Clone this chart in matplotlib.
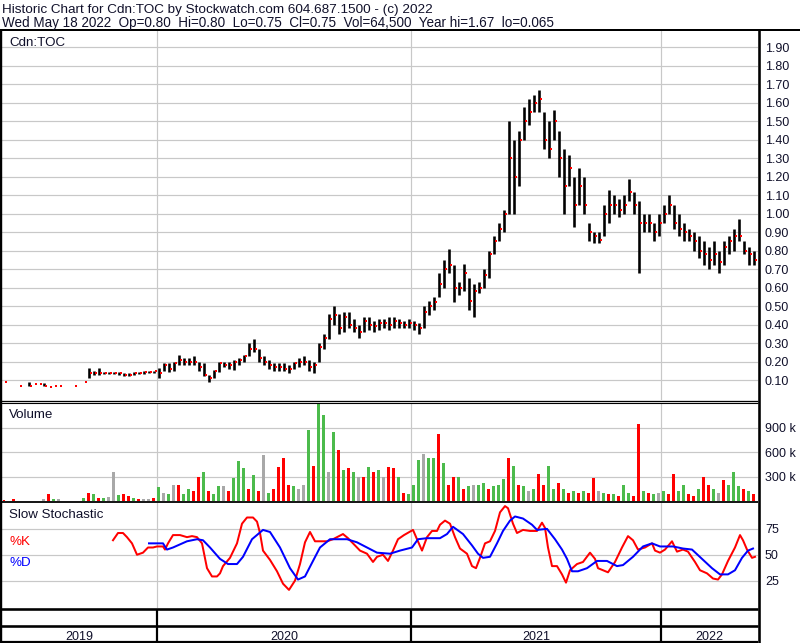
import numpy as np
import matplotlib
matplotlib.use("Agg")
import matplotlib.pyplot as plt
from matplotlib.lines import Line2D

plt.rcParams['font.family'] = ['Liberation Sans', 'DejaVu Sans']

# ---------------- data (weekly samples, session index of each week) ----------------
n_weeks = 151
week_session = 4 + 5 * np.arange(n_weeks)

price_high = [0.09, None, None, 0.07, None, 0.09, 0.08, 0.08, 0.085, 0.06,
              0.07, 0.07, None, None, 0.07, None, 0.09, 0.165, 0.15, 0.165,
              0.145, 0.145, 0.145, 0.145, 0.14, 0.14, 0.145, 0.145, 0.15, 0.15,
              0.15, 0.165, 0.19, 0.19, 0.20, 0.235, 0.22, 0.22, 0.23, 0.20,
              0.19, 0.13, 0.155, 0.20, 0.20, 0.20, 0.21, 0.22, 0.235, 0.30,
              0.32, 0.27, 0.23, 0.21, 0.19, 0.19, 0.19, 0.18, 0.20, 0.22,
              0.23, 0.21, 0.20, 0.30, 0.35, 0.46, 0.50, 0.46, 0.47, 0.47,
              0.43, 0.40, 0.44, 0.44, 0.42, 0.43, 0.43, 0.44, 0.44, 0.43,
              0.42, 0.43, 0.42, 0.41, 0.50, 0.53, 0.55, 0.68, 0.75, 0.81,
              0.72, 0.63, 0.73, 0.65, 0.62, 0.63, 0.70, 0.80, 0.88, 0.95,
              1.02, 1.50, 1.40, 1.45, 1.58, 1.62, 1.64, 1.67, 1.55, 1.50,
              1.56, 1.45, 1.35, 1.32, 1.20, 1.25, 1.20, 0.95, 0.90, 0.90,
              1.05, 1.13, 1.10, 1.08, 1.10, 1.19, 1.12, 1.07, 1.00, 1.00,
              0.95, 1.00, 1.05, 1.10, 1.05, 1.00, 0.95, 0.92, 0.90, 0.88,
              0.85, 0.82, 0.85, 0.80, 0.85, 0.88, 0.92, 0.97, 0.85, 0.82,
              0.80]
price_low = [0.09, None, None, 0.07, None, 0.07, 0.08, 0.08, 0.07, 0.06,
             0.07, 0.07, None, None, 0.07, None, 0.09, 0.11, 0.13, 0.13,
             0.135, 0.135, 0.135, 0.13, 0.12, 0.12, 0.13, 0.135, 0.135, 0.14,
             0.14, 0.11, 0.15, 0.145, 0.15, 0.18, 0.18, 0.18, 0.18, 0.15,
             0.12, 0.09, 0.11, 0.145, 0.17, 0.16, 0.155, 0.18, 0.20, 0.23,
             0.25, 0.20, 0.18, 0.16, 0.15, 0.15, 0.15, 0.14, 0.16, 0.17,
             0.18, 0.15, 0.14, 0.20, 0.27, 0.32, 0.40, 0.35, 0.36, 0.38,
             0.36, 0.33, 0.36, 0.37, 0.36, 0.37, 0.38, 0.37, 0.38, 0.38,
             0.38, 0.38, 0.37, 0.35, 0.38, 0.45, 0.48, 0.55, 0.60, 0.68,
             0.52, 0.56, 0.58, 0.48, 0.44, 0.57, 0.60, 0.65, 0.78, 0.85,
             0.90, 1.00, 1.00, 1.15, 1.40, 1.48, 1.55, 1.55, 1.35, 1.30,
             1.40, 1.20, 1.00, 1.15, 0.93, 1.05, 1.00, 0.85, 0.84, 0.84,
             0.88, 0.95, 1.00, 0.98, 1.00, 1.07, 1.00, 0.68, 0.90, 0.90,
             0.85, 0.88, 0.95, 1.00, 0.92, 0.88, 0.85, 0.85, 0.80, 0.76,
             0.72, 0.70, 0.72, 0.68, 0.72, 0.78, 0.80, 0.85, 0.78, 0.72,
             0.72]
price_close = [0.09, None, None, 0.07, None, 0.07, 0.08, 0.08, 0.07, 0.06,
               0.07, 0.07, None, None, 0.07, None, 0.09, 0.14, 0.14, 0.14,
               0.14, 0.14, 0.14, 0.14, 0.13, 0.13, 0.14, 0.14, 0.145, 0.145,
               0.15, 0.14, 0.18, 0.16, 0.19, 0.21, 0.20, 0.20, 0.20, 0.17,
               0.13, 0.11, 0.15, 0.19, 0.18, 0.18, 0.20, 0.21, 0.23, 0.27,
               0.27, 0.22, 0.20, 0.18, 0.17, 0.17, 0.16, 0.16, 0.19, 0.20,
               0.20, 0.17, 0.18, 0.28, 0.33, 0.43, 0.45, 0.38, 0.44, 0.40,
               0.38, 0.36, 0.42, 0.40, 0.39, 0.41, 0.41, 0.40, 0.42, 0.41,
               0.40, 0.41, 0.40, 0.38, 0.47, 0.50, 0.52, 0.62, 0.70, 0.72,
               0.60, 0.60, 0.68, 0.53, 0.58, 0.60, 0.67, 0.78, 0.85, 0.92,
               1.00, 1.30, 1.20, 1.40, 1.50, 1.55, 1.60, 1.62, 1.40, 1.35,
               1.50, 1.30, 1.15, 1.25, 1.05, 1.15, 1.05, 0.90, 0.88, 0.86,
               1.00, 1.05, 1.05, 1.02, 1.05, 1.12, 1.05, 0.95, 0.95, 0.95,
               0.90, 0.95, 1.00, 1.05, 0.95, 0.92, 0.90, 0.88, 0.85, 0.80,
               0.78, 0.75, 0.78, 0.74, 0.82, 0.85, 0.88, 0.88, 0.80, 0.78,
               0.75]

volume_k = [10, 0, 25, 0, 0, 0, 0, 0, 30, 80,
            30, 20, 0, 0, 0, 0, 40, 100, 80, 40,
            40, 50, 360, 70, 80, 60, 40, 30, 30, 20,
            40, 170, 100, 80, 200, 200, 80, 150, 120, 300,
            360, 120, 80, 180, 180, 120, 280, 490, 400, 150,
            320, 120, 560, 100, 150, 420, 530, 200, 180, 150,
            200, 870, 430, 1190, 1050, 360, 840, 620, 380, 400,
            350, 300, 300, 420, 350, 380, 300, 420, 400, 300,
            100, 80, 200, 500, 570, 530, 530, 820, 470, 200,
            300, 300, 150, 180, 200, 200, 220, 150, 180, 200,
            270, 530, 430, 200, 180, 120, 150, 330, 200, 430,
            150, 220, 150, 100, 120, 100, 120, 100, 280, 120,
            100, 80, 90, 60, 200, 100, 60, 940, 120, 100,
            80, 100, 120, 80, 330, 120, 200, 80, 60, 150,
            290, 200, 150, 100, 260, 200, 360, 180, 150, 120,
            80]
# u = up day (green), d = down day (red), n = unchanged (grey)
volume_dir = ("d d d d d d d d n d "
              "u n d d d d u d u d "
              "u n n u d d u d n n "
              "d u n u n d u u d d "
              "u d u u n d u u u d "
              "u d n u d d d d u n "
              "n u d u u n u d u d "
              "u n d u d u n d d u "
              "d u u u n u u d u d "
              "d u d u n u u d u u "
              "u d u d u n u d d u "
              "u d u d u d u d d n "
              "u d u d u u d d u d "
              "u n u d d u u d d u "
              "d d u n d u u u d u "
              "d").split()

stoch_k_session = [113, 118, 123, 127, 132, 137, 143, 148, 153, 157,
                   163, 165, 168, 173, 180, 187, 192, 197, 202, 207,
                   212, 217, 220, 223, 230, 237, 242, 247, 253, 257,
                   260, 263, 270, 277, 283, 289, 295, 300, 305, 310,
                   315, 320, 327, 333, 343, 348, 353, 360, 367, 373,
                   377, 383, 388, 393, 398, 404, 413, 417, 422, 427,
                   432, 437, 440, 445, 450, 455, 460, 467, 472, 476,
                   480, 485, 490, 495, 500, 505, 508, 513, 517, 523,
                   530, 537, 542, 545, 548, 552, 557, 562, 566, 570,
                   577, 583, 590, 595, 598, 608, 615, 622, 628, 633,
                   638, 645, 652, 655, 660, 665, 672, 677, 683, 688,
                   695, 700, 707, 713, 718, 722, 728, 735, 740, 743,
                   747, 752, 755]
stoch_k = [64, 71, 71, 67, 61, 50, 52, 57, 57, 58,
           58, 55, 61, 69, 69, 67, 68, 67, 61, 37,
           29, 29, 32, 39, 47, 61, 80, 86, 86, 82,
           71, 54, 45, 34, 22, 16, 25, 41, 62, 72,
           63, 63, 63, 65, 70, 66, 61, 54, 51, 43,
           48, 50, 44, 54, 65, 69, 74, 65, 54, 67,
           73, 73, 79, 83, 80, 67, 56, 51, 39, 37,
           47, 61, 63, 73, 91, 97, 95, 80, 71, 74,
           73, 73, 81, 76, 57, 39, 39, 31, 23, 35,
           41, 43, 52, 46, 37, 33, 43, 57, 68, 64,
           55, 57, 61, 54, 52, 55, 63, 53, 55, 53,
           43, 35, 32, 27, 26, 31, 44, 57, 69, 64,
           55, 47, 48]

stoch_d_session = [149, 157, 163, 167, 173, 187, 197, 203, 210, 220,
                   228, 237, 243, 252, 263, 270, 280, 290, 298, 305,
                   313, 320, 330, 347, 357, 367, 377, 390, 400, 412,
                   418, 427, 440, 447, 453, 463, 472, 478, 483, 490,
                   497, 503, 510, 515, 523, 532, 537, 547, 555, 562,
                   567, 572, 578, 587, 597, 607, 617, 623, 633, 643,
                   652, 660, 673, 683, 692, 702, 712, 720, 728, 735,
                   742, 748, 753]
stoch_d = [61, 61, 61, 55, 57, 63, 65, 64, 57, 46,
           41, 41, 48, 65, 74, 72, 57, 37, 26, 29,
           44, 57, 65, 65, 62, 57, 52, 51, 54, 57,
           65, 66, 66, 70, 77, 70, 59, 51, 47, 48,
           61, 73, 83, 87, 85, 79, 74, 75, 65, 55,
           46, 34, 34, 37, 44, 44, 39, 40, 48, 58,
           61, 58, 58, 56, 55, 46, 37, 31, 31, 35,
           47, 54, 56]

price_ticks = [0.10, 0.20, 0.30, 0.40, 0.50, 0.60, 0.70, 0.80, 0.90, 1.00,
               1.10, 1.20, 1.30, 1.40, 1.50, 1.60, 1.70, 1.80, 1.90]
volume_ticks_k = [300, 600, 900]
stoch_ticks = [25, 50, 75]
year_labels = ["2019", "2020", "2021", "2022"]
year_bounds = [2, 157, 411, 661, 758]   # session index where each year starts

header1 = "Historic Chart for Cdn:TOC by Stockwatch.com 604.687.1500 - (c) 2022"
header2 = ("Wed May 18 2022  Op=0.80  Hi=0.80  Lo=0.75  Cl=0.75  "
           "Vol=64,500  Year hi=1.67  lo=0.065")

# ---------------- styling ----------------
W, H = 800, 643
GRID = "#c8c8c8"
TXT = "#10102a"
RED = "#ff0000"
GREEN = "#4cbb4c"
GREY = "#a8a8a8"
BLUE = "#0000ff"
PX = 0.72  # points per pixel at dpi 100

fig = plt.figure(figsize=(W / 100, H / 100), dpi=100)
fig.patch.set_facecolor("white")


def fx(px):
    return px / W


def fy(py):
    return 1 - py / H


X0, X1 = 2, 758
ax_p = fig.add_axes([fx(X0), fy(400), (X1 - X0) / W, (400 - 31) / H])
ax_v = fig.add_axes([fx(X0), fy(501), (X1 - X0) / W, (501 - 403.5) / H])
ax_s = fig.add_axes([fx(X0), fy(608), (X1 - X0) / W, (608 - 502.5) / H])

for ax in (ax_p, ax_v, ax_s):
    ax.set_xlim(X0, X1)
    for s in ax.spines.values():
        s.set_visible(False)
    ax.set_xticks(year_bounds[1:-1])
    ax.tick_params(axis="x", length=0, labelbottom=False)
    ax.yaxis.tick_right()
    ax.tick_params(axis="y", length=0, pad=5, labelsize=9, labelcolor=TXT)
    ax.grid(True, color=GRID, lw=1.0 * PX * 1.2)
    ax.set_axisbelow(True)

# ---- price panel ----
hi = np.array(price_high, dtype=float)
lo = np.array(price_low, dtype=float)
cl = np.array(price_close, dtype=float)
ok = ~np.isnan(hi)
rng = ok & (hi > lo)
ax_p.vlines(week_session[rng], lo[rng], hi[rng], color="black", lw=2.6 * PX)
ax_p.plot(week_session[ok] + 2.4, cl[ok], ls="none", marker="s", ms=2.4 * PX,
          mfc=RED, mec=RED, mew=0, zorder=3)

ax_p.set_ylim(-0.008, 1.989)
ax_p.set_yticks(price_ticks)
ax_p.set_yticklabels([f"{t:.2f}" for t in price_ticks])

# ---- volume panel ----
cmap = {"d": RED, "u": GREEN, "n": GREY}
vcol = [cmap[c] for c in volume_dir]
ax_v.bar(week_session, volume_k, width=3.0, color=vcol, linewidth=0)
ax_v.set_ylim(0, 1195)
ax_v.set_yticks(volume_ticks_k)
ax_v.set_yticklabels([f"{t} k" for t in volume_ticks_k])

# ---- stochastic panel ----
ax_s.plot(stoch_k_session, stoch_k, color=RED, lw=2.0 * PX)
ax_s.plot(stoch_d_session, stoch_d, color=BLUE, lw=2.0 * PX)
ax_s.set_ylim(-1.5, 100.5)
ax_s.set_yticks(stoch_ticks)
ax_s.set_yticklabels([str(t) for t in stoch_ticks])

# ---- year strip ----
ax_y = fig.add_axes([fx(X0), fy(643), (X1 - X0) / W, (643 - 609) / H])
ax_y.set_xlim(X0, X1)
ax_y.set_ylim(0, 1)
ax_y.axis("off")
for i, lab in enumerate(year_labels):
    mid = 0.5 * (year_bounds[i] + year_bounds[i + 1])
    ax_y.text(mid, 0.08, lab, ha="center", va="baseline", fontsize=9,
              color=TXT)
for b in year_bounds[1:-1]:
    ax_y.axvline(b, color="black", lw=2.2 * PX)


# ---- frame lines ----
def hline(py, x0, x1, lw_px):
    fig.add_artist(Line2D([fx(x0), fx(x1)], [fy(py), fy(py)], color="black",
                          lw=lw_px * PX, solid_capstyle="butt"))


def vline(px, y0, y1, lw_px):
    fig.add_artist(Line2D([fx(px), fx(px)], [fy(y0), fy(y1)], color="black",
                          lw=lw_px * PX, solid_capstyle="butt"))


hline(30, 0, 800, 2)
hline(401.2, 0, 758, 1.3)
hline(403.4, 0, 758, 1.1)
hline(501.7, 0, 758, 1.8)
hline(609.2, 0, 758, 2.6)
hline(625.5, 0, 758, 2.6)
hline(642, 0, 758, 2.2)
vline(1, 30, 643, 2.4)
vline(758.8, 30, 643, 2.6)

# ---- texts ----
fig.text(fx(2), fy(13), header1, fontsize=9.7, color=TXT, va="baseline")
fig.text(fx(2), fy(27), header2, fontsize=9.75, color=TXT, va="baseline")
fig.text(fx(9), fy(46), "Cdn:TOC", fontsize=9.6, color=TXT, va="baseline")
fig.text(fx(9), fy(418), "Volume", fontsize=9.6, color=TXT, va="baseline")
fig.text(fx(9), fy(518), "Slow Stochastic", fontsize=9.6, color=TXT,
         va="baseline")
fig.text(fx(9), fy(545), "%K", fontsize=9.6, color=RED, va="baseline")
fig.text(fx(9), fy(566), "%D", fontsize=9.6, color=BLUE, va="baseline")

fig.savefig("out.png", dpi=100, facecolor="white")
